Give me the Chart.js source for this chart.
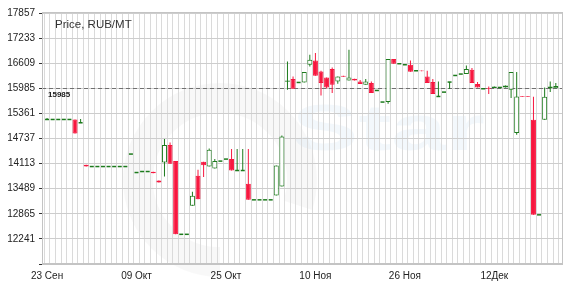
<!DOCTYPE html>
<html>
<head>
<meta charset="utf-8">
<script src="https://cdn.jsdelivr.net/npm/chart.js@4.4.0/dist/chart.umd.min.js"></script>
<style>
  body { margin: 0; background: #fff; }
  #wrap { width: 580px; height: 285px; }
</style>
</head>
<body>
<div id="wrap"><canvas id="priceChart"></canvas></div>
<script>
// daily candles, day 0 = 23 Sep
const opens = [
  15210, 15210, 15210, 15210, 15210, 15210, 15128, 14083, 14040, 14040,
  14040, 14040, 14040, 14040, 14040, 14350, 13891, 13916, 13916, 13908,
  13692, 14140, 14573, 14175, 12355, 12355, 13063, 13809, 14157, 14040,
  13991, 14175, 14225, 14225, 13941, 13941, 13610, 13212, 13212, 13212,
  13212, 13319, 13543, 16150, 16215, 16130, 16130, 16571, 16678, 16404,
  16255, 16464, 16155, 16297, 16180, 16222, 16155, 16073, 16115, 15931,
  15643, 15643, 16713, 16596, 16571, 16571, 16421, 16430, 16280, 16140,
  15782, 15890, 16140, 16304, 16339, 16339, 16446, 16091, 15974, 15990,
  15991, 16006, 16006, 15949, 14871, 15790, 15790, 15202, 12839, 15202,
  15985, 15985
];
const highs = [
  15245, 15210, 15210, 15210, 15210, 15210, 15220, 14083, 14040, 14040,
  14040, 14040, 14040, 14040, 14040, 14350, 13891, 13916, 13916, 13908,
  13692, 14722, 14638, 14175, 12355, 12355, 13411, 13958, 14157, 14488,
  14225, 14175, 14225, 14473, 14473, 14473, 14473, 13212, 13212, 13212,
  13212, 14065, 14812, 16653, 16280, 16130, 16389, 16820, 16862, 16421,
  16255, 16500, 16280, 16297, 16944, 16222, 16190, 16215, 16155, 15931,
  15643, 16713, 16713, 16596, 16571, 16678, 16421, 16430, 16421, 16215,
  16155, 15890, 16140, 16304, 16339, 16553, 16489, 16140, 15974, 16031,
  16031, 16006, 16056, 16389, 16389, 15790, 15790, 15775, 12839, 16006,
  16155, 16115
];
const lows = [
  15210, 15210, 15210, 15210, 15210, 14861, 15128, 14040, 14040, 14040,
  14040, 14040, 14040, 14040, 14040, 14350, 13891, 13916, 13916, 13875,
  13642, 13792, 14108, 12355, 12355, 12355, 13063, 13229, 13777, 14040,
  13991, 14175, 14225, 13941, 13941, 13941, 13212, 13212, 13212, 13212,
  13212, 13319, 13543, 15949, 15974, 16130, 16130, 16528, 16297, 15807,
  15980, 15867, 16098, 16270, 16180, 16180, 16091, 16073, 15867, 15931,
  15643, 15600, 16596, 16596, 16571, 16397, 16421, 16410, 16115, 15842,
  15782, 15890, 15966, 16304, 16339, 16339, 16115, 16006, 15974, 15842,
  15991, 16006, 16006, 15742, 14829, 15770, 15770, 12839, 12839, 15202,
  15891, 15985
];
const closes = [
  15210, 15210, 15210, 15210, 15210, 14861, 15128, 14040, 14040, 14040,
  14040, 14040, 14040, 14040, 14040, 14350, 13891, 13916, 13916, 13875,
  13642, 14573, 14108, 12355, 12355, 12355, 13311, 13229, 14075, 14456,
  14175, 14175, 14225, 13941, 13941, 13941, 13212, 13212, 13212, 13212,
  13212, 14065, 14787, 16180, 15974, 16130, 16389, 16695, 16297, 16115,
  16006, 16073, 16280, 16270, 16255, 16180, 16091, 16155, 15867, 15931,
  15643, 16713, 16596, 16596, 16571, 16397, 16421, 16410, 16115, 15842,
  15782, 15890, 16140, 16304, 16339, 16464, 16115, 16006, 15974, 15975,
  16031, 16006, 16056, 16389, 15782, 15770, 15770, 12839, 12839, 15775,
  16031, 16040
];

const xTickDays = [0, 16, 32, 48, 64, 80];
const xTickLabels = ['23 Сен', '09 Окт', '25 Окт', '10 Ноя', '26 Ноя', '12Дек'];
const yTicks = [11617, 12241, 12865, 13489, 14113, 14737, 15361, 15985, 16609, 17233, 17857];
const lastPrice = 15985;

const RED = '#f7173f';
const GREEN = '#1c7a1c';
const FONT = '"Liberation Sans", Arial, sans-serif';

const days = opens.map((_, i) => i);
const isUp = i => closes[i] >= opens[i];

const wicks = days.filter(i => highs[i] !== lows[i]).map(i => ({ x: i, y: [lows[i], highs[i]] }));
const bodies = days.filter(i => opens[i] !== closes[i]).map(i => ({ x: i, y: [opens[i], closes[i]] }));
const flats = days.filter(i => opens[i] === closes[i]).map(i => ({ x: i, y: closes[i] }));

const decor = {
  id: 'decor',
  beforeDraw(chart) {
    // faint site logo behind the grid
    const { ctx } = chart;
    ctx.save();
    ctx.strokeStyle = 'rgba(0,0,0,0.028)';
    ctx.lineWidth = 30;
    ctx.beginPath();
    ctx.arc(220, 180, 82, Math.PI * 0.5, Math.PI * 2.1);
    ctx.stroke();
    ctx.translate(292, 150);
    ctx.scale(1.55, 1);
    ctx.fillStyle = 'rgba(150,190,225,0.11)';
    ctx.font = 'bold 64px ' + FONT;
    ctx.fillText('Star', 0, 0);
    ctx.restore();
  },
  beforeDatasetsDraw(chart) {
    const { ctx, chartArea: a, scales: { y } } = chart;
    const py = Math.round(y.getPixelForValue(lastPrice)) + 0.5;
    ctx.save();
    ctx.strokeStyle = '#707070';
    ctx.lineWidth = 1;
    ctx.setLineDash([4, 3]);
    ctx.beginPath();
    ctx.moveTo(a.left, py);
    ctx.lineTo(a.right, py);
    ctx.stroke();
    ctx.restore();
  },
  afterDraw(chart) {
    const { ctx, chartArea: a, scales: { y } } = chart;
    ctx.save();
    ctx.strokeStyle = '#c4c4c4';
    ctx.lineWidth = 1;
    ctx.strokeRect(Math.round(a.left) + 0.5, Math.round(a.top) - 0.5,
      Math.round(a.right - a.left), Math.round(a.bottom - a.top));
    ctx.fillStyle = '#333';
    ctx.font = '11.5px ' + FONT;
    ctx.textBaseline = 'alphabetic';
    ctx.fillText('Price, RUB/MT', a.left + 13, a.top + 15);
    ctx.fillStyle = '#222';
    ctx.font = 'bold 8px ' + FONT;
    ctx.fillText(String(lastPrice), a.left + 6, y.getPixelForValue(lastPrice) + 9);
    ctx.restore();
  }
};

new Chart(document.getElementById('priceChart'), {
  type: 'bar',
  data: {
    datasets: [
      {
        type: 'line',
        data: flats,
        showLine: false,
        pointStyle: 'line',
        pointRadius: 2,
        pointBorderWidth: 1.5,
        pointBorderColor: GREEN,
        pointBackgroundColor: GREEN,
        order: 0
      },
      {
        data: bodies,
        grouped: false,
        barThickness: 5,
        borderWidth: 1,
        borderSkipped: false,
        inflateAmount: 0,
        backgroundColor: c => isUp(c.raw.x) ? '#ffffff' : RED,
        borderColor: c => isUp(c.raw.x) ? GREEN : RED,
        order: 1
      },
      {
        data: wicks,
        grouped: false,
        barThickness: 1,
        borderWidth: 0,
        inflateAmount: 0,
        backgroundColor: c => isUp(c.raw.x) ? GREEN : RED,
        order: 2
      }
    ]
  },
  options: {
    responsive: true,
    maintainAspectRatio: false,
    animation: false,
    devicePixelRatio: 1,
    layout: { padding: { top: 13, right: 18, left: 0, bottom: 0 } },
    plugins: { legend: { display: false }, tooltip: { enabled: false } },
    scales: {
      x: {
        type: 'linear',
        min: -0.4,
        max: 91.6,
        afterBuildTicks: axis => { axis.ticks = days.map(v => ({ value: v })); },
        afterFit: axis => { axis.height = 21; },
        ticks: {
          autoSkip: false,
          maxRotation: 0,
          padding: 6,
          color: '#222',
          font: { size: 10, family: FONT },
          callback: v => {
            const k = xTickDays.indexOf(v);
            return k >= 0 ? xTickLabels[k] : '';
          }
        },
        grid: { color: '#dadada', drawTicks: false },
        border: { color: '#c4c4c4' }
      },
      y: {
        min: yTicks[0],
        max: yTicks[yTicks.length - 1],
        afterBuildTicks: axis => { axis.ticks = yTicks.map(v => ({ value: v })); },
        afterFit: axis => { axis.width = 42; },
        ticks: {
          padding: 4,
          color: '#222',
          font: { size: 10, family: FONT },
          callback: v => v === yTicks[0] ? '' : String(v)
        },
        grid: { color: '#cdcdcd', tickColor: '#333', tickLength: 3 },
        border: { color: '#c4c4c4' }
      }
    }
  },
  plugins: [decor]
});
</script>
</body>
</html>
